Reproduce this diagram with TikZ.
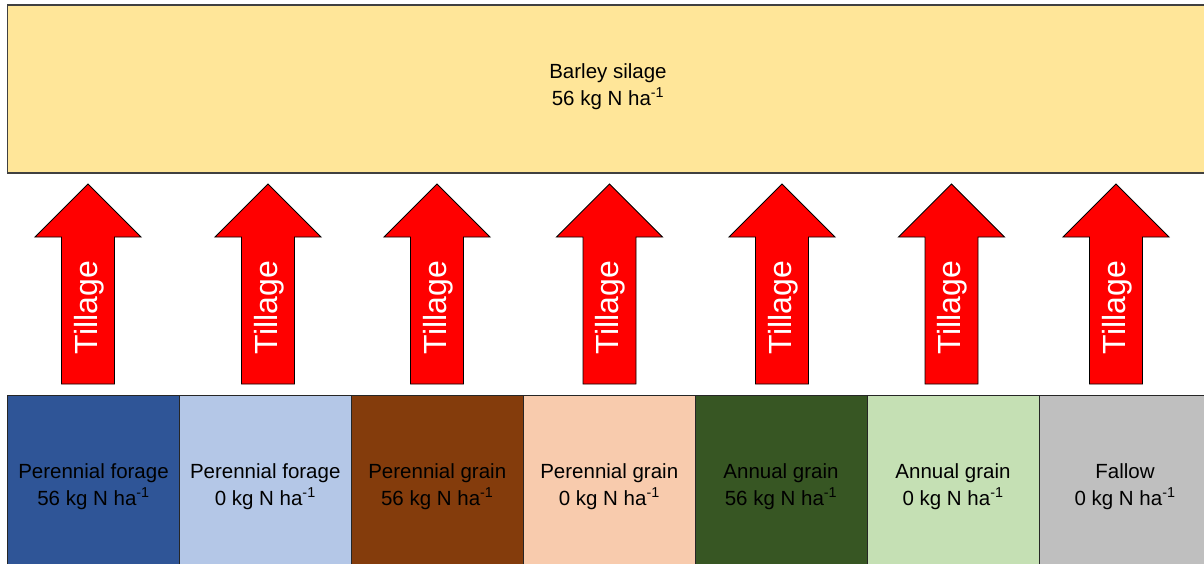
\documentclass[tikz,border=0pt]{standalone}
\usepackage{fontspec}
\setmainfont{Liberation Sans}
\begin{document}
\begin{tikzpicture}[x=1pt,y=-1pt,
  cropbox/.style={draw=black!85, line width=1pt, inner sep=0pt, outer sep=0pt},
  croptext/.style={align=center, text=black, inner sep=0pt,
    font=\fontsize{20.5}{27}\selectfont},
  tillarrow/.style={draw=black, line width=0.9pt, fill=red, line join=miter},
  tilltext/.style={text=white, rotate=90, inner sep=0pt,
    font=\fontsize{32}{38}\selectfont}]
\definecolor{silage}{HTML}{FFE699}
\definecolor{pfhi}{HTML}{2F5597}
\definecolor{pflo}{HTML}{B4C7E7}
\definecolor{pghi}{HTML}{843C0C}
\definecolor{pglo}{HTML}{F8CBAD}
\definecolor{aghi}{HTML}{375623}
\definecolor{aglo}{HTML}{C5E0B4}
\definecolor{fallow}{HTML}{BFBFBF}
\useasboundingbox (0,0) rectangle (1204,563);
\clip (0,0) rectangle (1204,563);

% following crop
\draw[cropbox, draw=black!75, line width=1.3pt, fill=silage] (7.5,5) rectangle (1214,173);
\node[croptext] (barley) at (608,86.5) {Barley silage\\56 kg N ha\textsuperscript{-1}};

% preceding crops
\foreach \xl/\xr/\col/\txt [count=\i] in {
  7.5/179.5/pfhi/{Perennial forage\\56 kg N ha\textsuperscript{-1}},
  179.5/351/pflo/{Perennial forage\\0 kg N ha\textsuperscript{-1}},
  351/523.5/pghi/{Perennial grain\\56 kg N ha\textsuperscript{-1}},
  523.5/695/pglo/{Perennial grain\\0 kg N ha\textsuperscript{-1}},
  695/867/aghi/{Annual grain\\56 kg N ha\textsuperscript{-1}},
  867/1039/aglo/{Annual grain\\0 kg N ha\textsuperscript{-1}},
  1039/1211/fallow/{Fallow\\0 kg N ha\textsuperscript{-1}}} {
  \draw[cropbox, fill=\col] (\xl,395) rectangle (\xr,575);
  \node[croptext] (prev\i) at ({(\xl+\xr)/2},486.5) {\txt};
}

% tillage arrows
\foreach \cx [count=\i] in {88,268,437,609.5,782,951.5,1116} {
  \draw[tillarrow] (\cx-26.5,384) -- (\cx-26.5,237) -- (\cx-53,237)
    -- (\cx,184) -- (\cx+53,237) -- (\cx+26.5,237) -- (\cx+26.5,384) -- cycle;
  \node[tilltext] (till\i) at (\cx+1,307.5) {Tillage};
}
\end{tikzpicture}
\end{document}
